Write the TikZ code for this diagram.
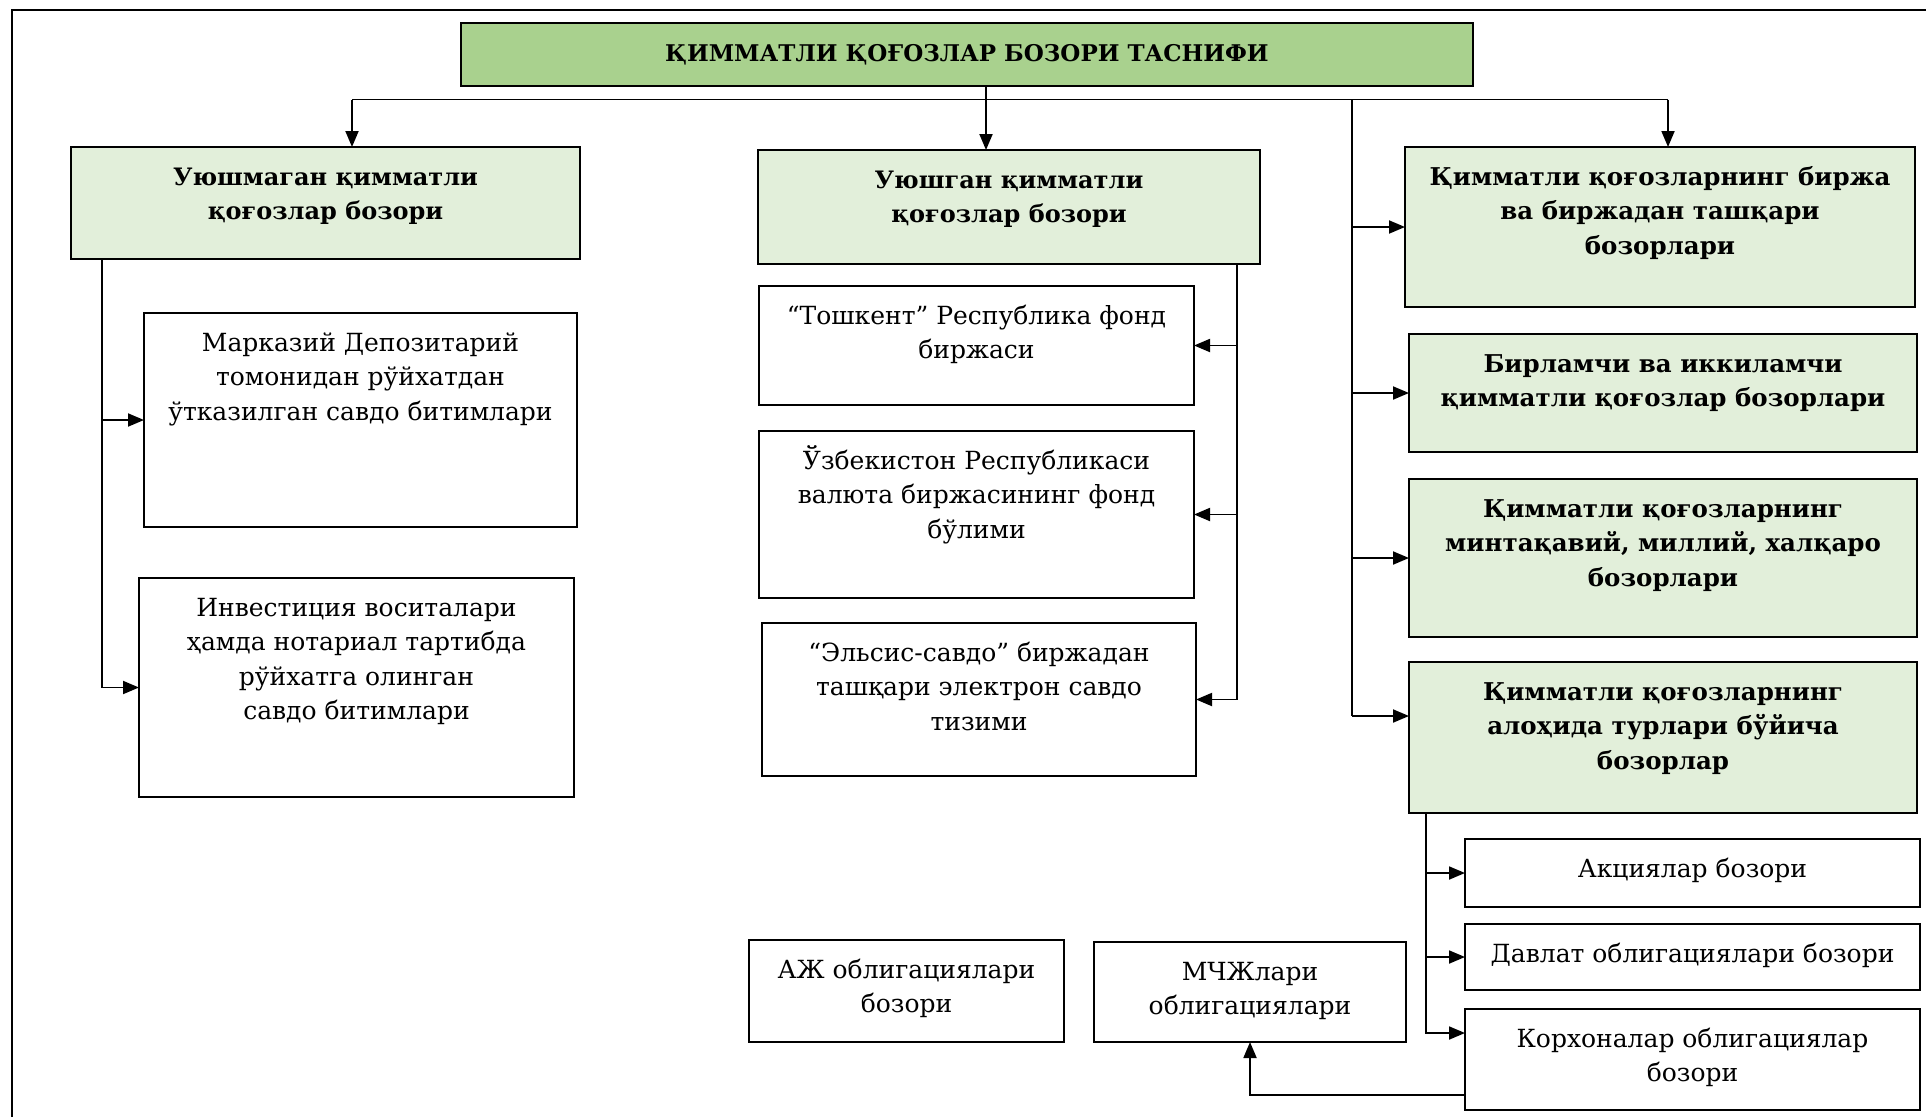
\documentclass[tikz,border=0pt]{standalone}
\usepackage{fontspec}
\setmainfont{DejaVu Serif}
\usetikzlibrary{arrows.meta}
\definecolor{titlegreen}{HTML}{A9D18E}
\definecolor{lightgreen}{HTML}{E2EFDA}
\newcommand\tbx[3]{\parbox[c][#2pt][t]{#1pt}{\centering\vspace*{14pt}\strut#3}}
\tikzset{
  reg/.style={font=\fontsize{25}{34.5}\selectfont},
  bld/.style={font=\fontsize{24.5}{34.5}\selectfont\bfseries},
  bldl/.style={font=\fontsize{24}{34.5}\selectfont\bfseries},
  bx/.style={draw=black, line width=1.9pt, inner sep=0pt, outer sep=0pt, anchor=north west},
  gbox/.style={bx, fill=lightgreen, bld},
  wbox/.style={bx, fill=white, reg},
  conn/.style={line width=1.9pt},
  arr/.style={line width=1.9pt, -{Triangle[length=16pt,width=13pt]}}
}
\begin{document}
\begin{tikzpicture}[x=1pt,y=-1pt]
\useasboundingbox (0,0) rectangle (1926,1117);
% outer frame
\draw[line width=2pt] (12,1117) -- (12,10) -- (1926,10);

% title
\node[bx, fill=titlegreen, line width=2.4pt, font=\fontsize{23}{30}\selectfont\bfseries, minimum width=1012pt, minimum height=63pt] (t) at (461,23) {ҚИММАТЛИ ҚОҒОЗЛАР БОЗОРИ ТАСНИФИ};

% level 1
\node[gbox, bldl] (b1) at (71,147) {\tbx{509}{112}{Уюшмаган қимматли\\қоғозлар бозори}};
\node[gbox, bldl] (b2) at (758,150) {\tbx{502}{114}{Уюшган қимматли\\қоғозлар бозори}};
\node[gbox] (b3) at (1405,147) {\tbx{510}{160}{Қимматли қоғозларнинг биржа\\ва биржадан ташқари\\бозорлари}};
\node[gbox] (b4) at (1409,334) {\tbx{508}{118}{Бирламчи ва иккиламчи\\қимматли қоғозлар бозорлари}};
\node[gbox] (b5) at (1409,479) {\tbx{508}{158}{Қимматли қоғозларнинг\\минтақавий, миллий, халқаро\\бозорлари}};
\node[gbox] (b6) at (1409,662) {\tbx{508}{151}{Қимматли қоғозларнинг\\алоҳида турлари бўйича\\бозорлар}};

% left column
\node[wbox] (b1a) at (144,313) {\tbx{433}{214}{Марказий Депозитарий\\томонидан рўйхатдан\\ўтказилган савдо битимлари}};
\node[wbox] (b1b) at (139,578) {\tbx{435}{219}{Инвестиция воситалари\\ҳамда нотариал тартибда\\рўйхатга олинган\\савдо битимлари}};

% middle column
\node[wbox] (b2a) at (759,286) {\tbx{435}{119}{“Тошкент” Республика фонд\\биржаси}};
\node[wbox] (b2b) at (759,431) {\tbx{435}{167}{Ўзбекистон Республикаси\\валюта биржасининг фонд\\бўлими}};
\node[wbox] (b2c) at (762,623) {\tbx{434}{153}{“Эльсис-савдо” биржадан\\ташқари электрон савдо\\тизими}};

% bottom right
\node[wbox] (b7) at (1465,839) {\tbx{455}{68}{Акциялар бозори}};
\node[wbox] (b8) at (1465,924) {\tbx{455}{66}{Давлат облигациялари бозори}};
\node[wbox] (b9) at (1465,1009) {\tbx{455}{101}{Корхоналар облигациялар\\бозори}};
\node[wbox] (b10) at (749,940) {\tbx{315}{102}{АЖ облигациялари\\бозори}};
\node[wbox] (b11) at (1094,942) {\tbx{312}{100}{МЧЖлари\\облигациялари}};

% top connectors
\coordinate (barL) at (352,99.5);
\coordinate (barM) at (986,99.5);
\coordinate (barR) at (1668,99.5);
\coordinate (trk) at (1352,99.5);
\draw[conn] (barM |- t.south) -- (barM);
\draw[conn] (barL) -- (barR);
\draw[arr] (barL) -- (barL |- b1.north);
\draw[arr] (barM) -- (barM |- b2.north);
\draw[arr] (barR) -- (barR |- b3.north);

% right trunk
\coordinate (trkEnd) at (1352,716);
\draw[conn] (trk) -- (trkEnd);
\draw[arr] (trk |- b3.west) -- (b3.west);
\draw[arr] (trk |- b4.west) -- (b4.west);
\draw[arr] (trk |- b5.west) -- (b5.west);
\draw[arr] (trkEnd) -- (b6.west |- trkEnd);

% left trunk
\coordinate (L) at (102,0);
\draw[arr] (L |- b1.south) |- (b1a.west);
\draw[arr] (L |- b1.south) |- (b1b.west);

% middle trunk
\coordinate (M) at (1237,0);
\draw[arr] (M |- b2.south) |- (b2a.east);
\draw[arr] (M |- b2.south) |- (b2b.east);
\draw[arr] (M |- b2.south) |- (b2c.east);

% lower right trunk
\coordinate (R) at (1426,0);
\coordinate (r9) at (1426,1033);
\draw[arr] (R |- b6.south) |- (b7.west);
\draw[arr] (R |- b6.south) |- (b8.west);
\draw[arr] (R |- b6.south) -- (r9) -- (b9.west |- r9);

% return arrow
\coordinate (ret) at (1465,1095);
\draw[arr] (ret) -| (b11.south);
\end{tikzpicture}
\end{document}
